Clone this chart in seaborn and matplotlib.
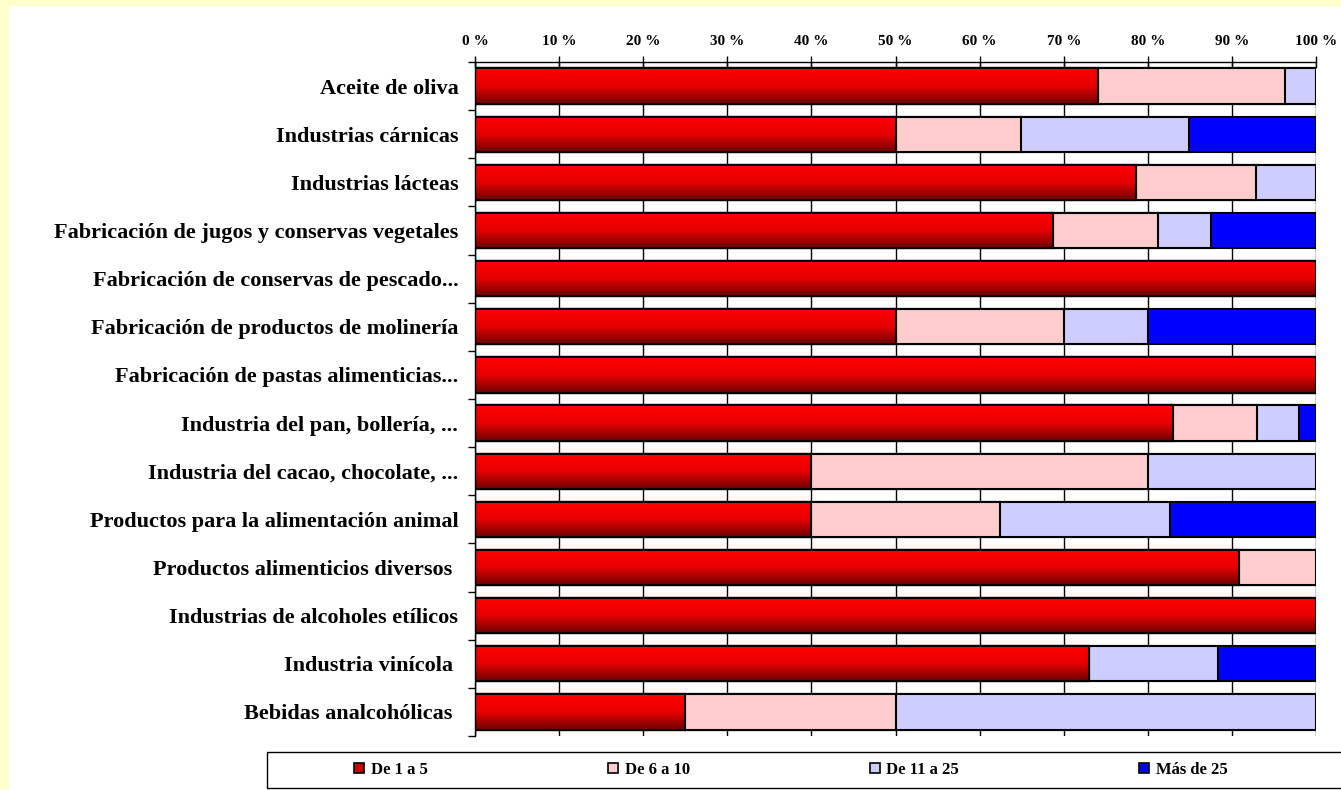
import numpy as np
import matplotlib
matplotlib.use("Agg")
import matplotlib.pyplot as plt
import matplotlib.patches as mpatches
from matplotlib.colors import LinearSegmentedColormap
import seaborn as sns

# Datos (porcentaje de empresas por tramo de empleo)
sectores = [
    "Aceite de oliva",
    "Industrias cárnicas",
    "Industrias lácteas",
    "Fabricación de jugos y conservas vegetales",
    "Fabricación de conservas de pescado...",
    "Fabricación de productos de molinería",
    "Fabricación de pastas alimenticias...",
    "Industria del pan, bollería, ...",
    "Industria del cacao, chocolate, ...",
    "Productos para la alimentación animal",
    "Productos alimenticios diversos ",
    "Industrias de alcoholes etílicos",
    "Industria vinícola ",
    "Bebidas analcohólicas ",
]
de_1_a_5 = [74.1, 50.0, 78.6, 68.75, 100, 50, 100, 83, 40, 40, 90.8, 100, 73.0, 25]
de_6_a_10 = [22.2, 14.9, 14.3, 12.5, 0, 20, 0, 10, 40, 22.4, 9.2, 0, 0, 25]
de_11_a_25 = [3.7, 20.0, 7.1, 6.25, 0, 10, 0, 5, 20, 20.2, 0, 0, 15.4, 50]
mas_de_25 = [0, 15.1, 0, 12.5, 0, 20, 0, 2, 0, 17.4, 0, 0, 11.6, 0]
series_labels = ["De 1 a 5", "De 6 a 10", "De 11 a 25", "Más de 25"]
x_ticks = [0, 10, 20, 30, 40, 50, 60, 70, 80, 90, 100]
x_tick_labels = [f"{t} %" for t in x_ticks]

colors = ["#FF0000", "#FFCDCD", "#CDCDFF", "#0000FF"]
legend_colors = ["#C80000", "#FFCDCD", "#CDCDFF", "#0000FF"]

sns.set_style("white")
plt.rcParams['font.family'] = ['Liberation Serif', 'DejaVu Serif']
plt.rcParams['text.color'] = 'black'
plt.rcParams['xtick.color'] = 'black'
plt.rcParams['ytick.color'] = 'black'

W, H = 1341, 790
fig = plt.figure(figsize=(W / 100, H / 100), dpi=100)
fig.patch.set_facecolor('#FFFFCC')
fig.add_artist(mpatches.Rectangle((9 / W, 0), 1, 1 - 6 / H, transform=fig.transFigure,
                                  facecolor='white', edgecolor='none', zorder=-1))

ax = fig.add_axes([475 / W, 54 / H, 841 / W, 674 / H])
ax.set_facecolor('white')

# Stacked bars: draw cumulative totals from the largest down
series = np.array([de_1_a_5, de_6_a_10, de_11_a_25, mas_de_25])
cum = np.cumsum(series, axis=0)
for i in range(3, -1, -1):
    sns.barplot(x=cum[i], y=sectores, orient='h', color=colors[i], saturation=1,
                edgecolor='black', linewidth=1.5, width=0.73, errorbar=None, ax=ax)
red_bars = ax.containers[-1]

# Red gradient on the first segment
cmap = LinearSegmentedColormap.from_list('rojo', ['#FF0000', '#E80000', '#6E0000'])
grad = np.linspace(0, 1, 64)[:, None]
for bar in red_bars:
    x0, y0, w, h = bar.get_x(), bar.get_y(), bar.get_width(), bar.get_height()
    im = ax.imshow(grad, cmap=cmap, aspect='auto', origin='upper',
                   extent=(x0, x0 + w, y0 + h, y0), zorder=bar.get_zorder() + 0.1)
    im.set_clip_path(bar)
    ax.add_patch(mpatches.Rectangle((x0, y0), w, h, fill=False, edgecolor='black',
                                    linewidth=1.5, zorder=bar.get_zorder() + 0.2))

n = len(sectores)
ax.set_xlim(0, 100)
ax.set_ylim(n - 0.5, -0.5)
ax.set_xlabel('')
ax.set_ylabel('')

ax.xaxis.tick_top()
ax.set_xticks(x_ticks)
ax.set_xticklabels(x_tick_labels, fontsize=11, fontweight='bold')
ax.tick_params(axis='x', direction='inout', length=8, width=1, pad=6, colors='black')
ax.grid(axis='x', color='black', linewidth=1)
ax.grid(axis='y', visible=False)
ax.set_axisbelow(True)

ax.set_yticks(range(n))
ax.set_yticklabels(sectores, fontsize=16, fontweight='bold')
ax.set_yticks(np.arange(n + 1) - 0.5, minor=True)
ax.tick_params(axis='y', which='major', length=0, pad=12)
ax.tick_params(axis='y', which='minor', length=5, width=1, direction='out', left=True)

for s in ['right', 'bottom']:
    ax.spines[s].set_visible(False)
for s in ['top', 'left']:
    ax.spines[s].set_color('black')
    ax.spines[s].set_linewidth(1)

# Legend box at the bottom
fig.add_artist(mpatches.Rectangle((267 / W, 2 / H), 1, 36 / H, transform=fig.transFigure,
                                  fill=False, edgecolor='black', linewidth=1, zorder=1))
handles = [mpatches.Patch(facecolor=c, edgecolor='black', linewidth=1.2) for c in legend_colors]
fig.legend(handles, series_labels, ncol=4, loc='center', bbox_to_anchor=(791 / W, 20 / H),
           frameon=False, columnspacing=10.8, handlelength=0.6, handleheight=0.6,
           handletextpad=0.4, prop={'size': 12, 'weight': 'bold'})

fig.savefig('out.png', dpi=100, facecolor=fig.get_facecolor())
